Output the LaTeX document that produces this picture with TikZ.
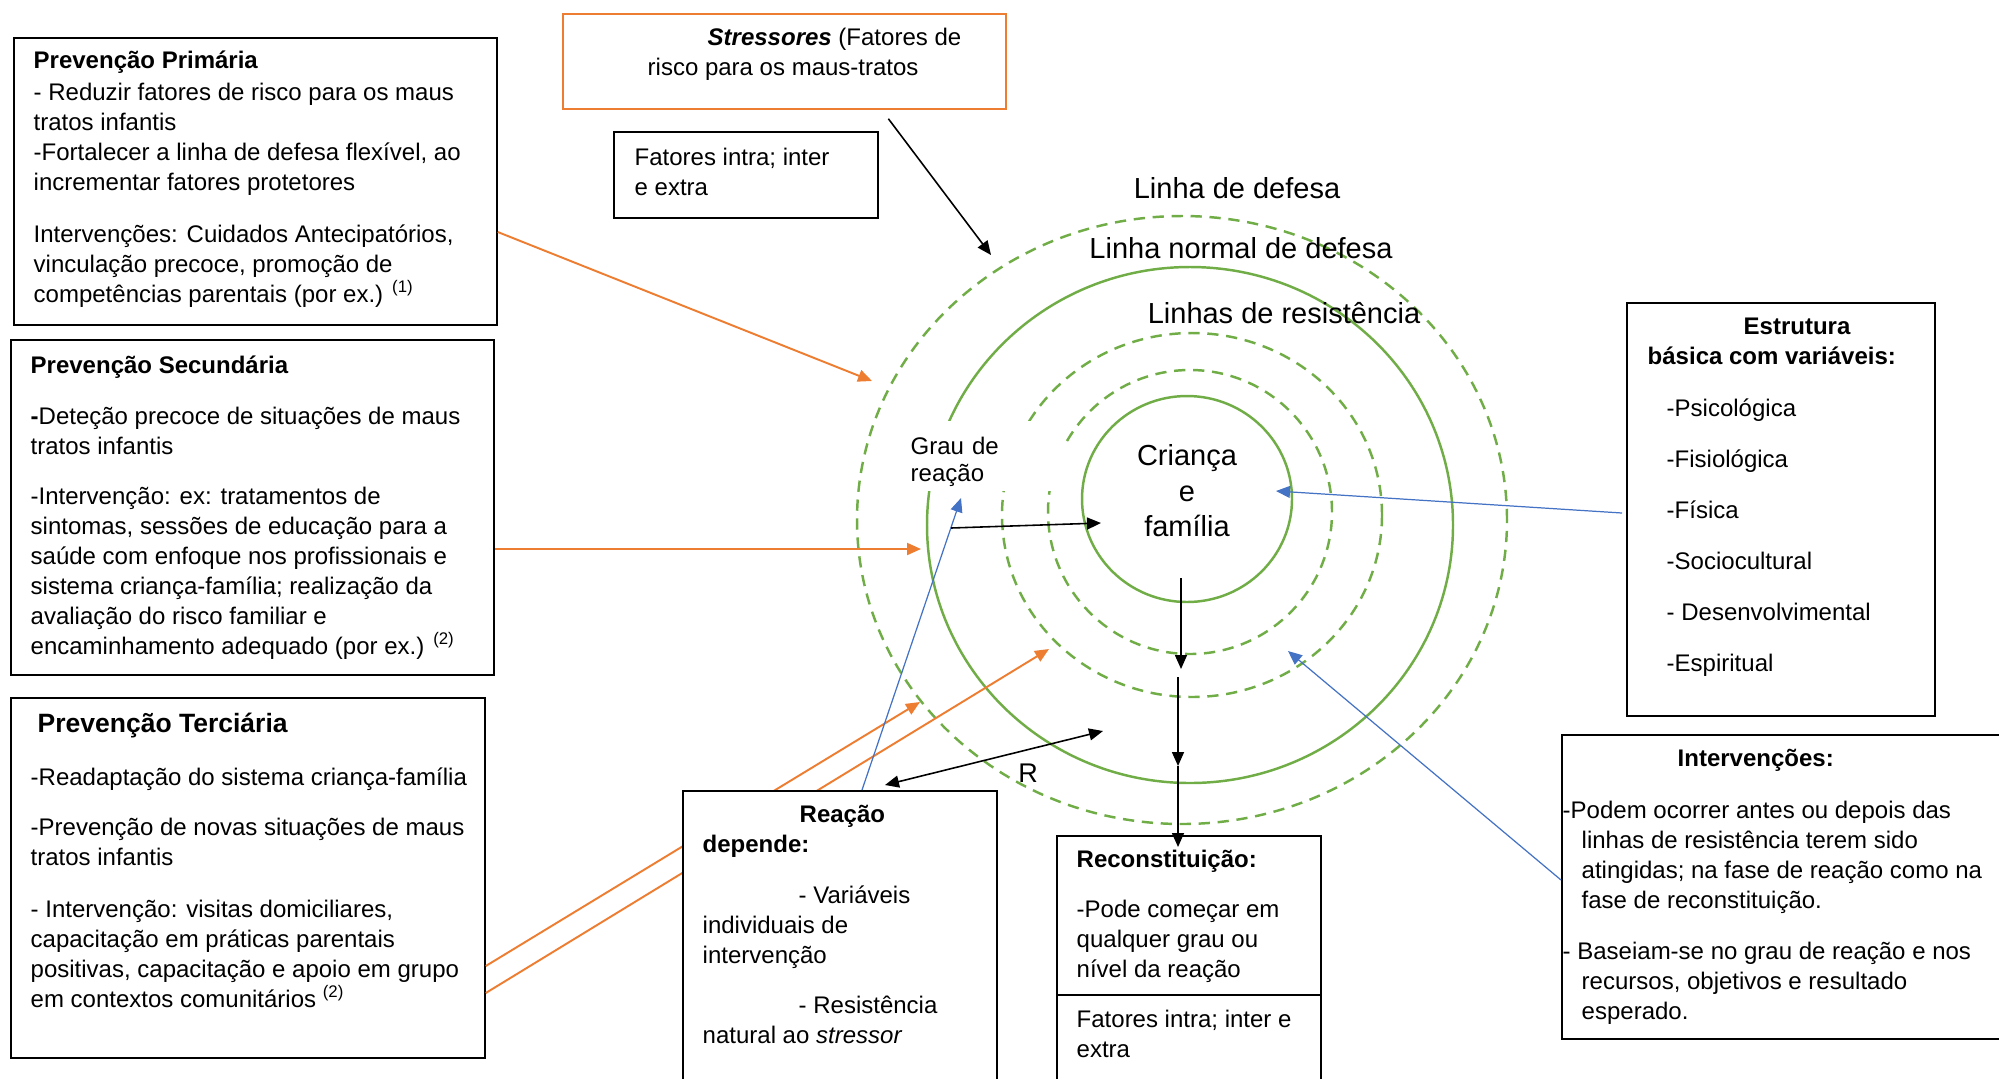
\documentclass[tikz,border=0pt]{standalone}
\usepackage{fontspec}
\setmainfont{Liberation Sans}
\usetikzlibrary{calc}
\usetikzlibrary{arrows.meta}
\definecolor{ora}{HTML}{ED7D31}
\definecolor{blu}{HTML}{4472C4}
\definecolor{grn}{HTML}{70AD47}
\newcommand\bodyfont{\fontsize{6.83pt}{8.54pt}\selectfont}
\newcommand\graufont{\fontsize{6.83pt}{7.68pt}\selectfont}
\newcommand\ringfont{\fontsize{8.25pt}{10.1pt}\selectfont}
\newcommand\bighead{\fontsize{7.54pt}{8.54pt}\selectfont\bfseries}
\newcommand\firstline{\rule{0pt}{2.2mm}}   % fixed height of a first line, so its baseline sits 2.2mm below the node top
\tikzset{
    frame/.style={draw, line width=0.5pt, fill=white, anchor=north west, inner sep=0pt},   % empty box, its text is a node of its own
    txt/.style={anchor=north west, inner sep=0pt, align=left, font=\bodyfont},
    ring/.style={grn, line width=0.7pt},
    dashring/.style={ring, dash pattern=on 3.2pt off 2.2pt},
    blk/.style={->, line width=0.45pt},
    ora arrow/.style={->, ora, line width=0.55pt},
    blu arrow/.style={->, blu, line width=0.35pt}
    }

\begin{document}
\begin{tikzpicture}[x=0.1mm, y=-0.1mm, >={Triangle[length=1.4mm,width=1.2mm]}]
	\useasboundingbox (0,0) rectangle (1999,1078);
	\clip (0,0) rectangle (1999,1078);

	% lines round the child and family
	\draw[dashring] (1182,520) ellipse [x radius=32.5mm, y radius=30.4mm];
	\draw[ring] (1190,525) ellipse [x radius=26.3mm, y radius=25.8mm];
	\draw[dashring] (1192,515) ellipse [x radius=19mm, y radius=18.2mm];
	\draw[dashring] (1190,512) ellipse [x radius=14.2mm, y radius=14.2mm];
	\draw[ring] (1187,499) ellipse [x radius=10.5mm, y radius=10.3mm];

	\node[fill=white, anchor=north west, inner xsep=0.5mm, inner ysep=0pt, text width=14.9mm,
		align=left, text height=3.4mm, text depth=3.6mm, font=\graufont] (grau) at (905,420) {Grau de\\ reação};
	\node[anchor=base, font=\ringfont] (flexlabel) at (1237,198) {Linha de defesa};
	\node[anchor=base, font=\ringfont] (normlabel) at (1241,258) {Linha normal de defesa};
	\node[anchor=base, font=\ringfont] (reslabel) at (1284,323) {Linhas de resistência};
	\node[anchor=north, inner sep=0pt, align=center, font=\ringfont] (crianca) at (1187,443) {\rule{0pt}{2.2mm}Criança\\ e\\ família};

	\node[frame, minimum width=48.3mm, minimum height=28.7mm] (prim) at (13,37) {};
	\node[txt] (primtext) at ($(prim.north west)+(20,9)$) {\firstline\textbf{Prevenção Primária}\\[0.2mm]
		- Reduzir fatores de risco para os maus\\
		tratos infantis\\
		-Fortalecer a linha de defesa flexível, ao\\
		incrementar fatores protetores\\[2.2mm]
		Intervenções: Cuidados Antecipatórios,\\
		vinculação precoce, promoção de\\
		competências parentais (por ex.) \textsuperscript{(1)}};

	\node[frame, minimum width=48.3mm, minimum height=33.5mm] (sec) at (10,339) {};
	\node[txt] (sectext) at ($(sec.north west)+(20,12)$) {\firstline\textbf{Prevenção Secundária}\\[2.1mm]
		\textbf{-}Deteção precoce de situações de maus\\
		tratos infantis\\[2mm]
		-Intervenção: ex: tratamentos de\\
		sintomas, sessões de educação para a\\
		saúde com enfoque nos profissionais e\\
		sistema criança-família; realização da\\
		avaliação do risco familiar e\\
		encaminhamento adequado (por ex.) \textsuperscript{(2)}};

	\node[frame, minimum width=47.4mm, minimum height=36mm] (terc) at (10,697) {};
	\node[txt] (terctext) at ($(terc.north west)+(20,12)$) {\rule{0pt}{2.3mm}\hspace*{0.7mm}{\bighead Prevenção Terciária}\\[2.3mm]
		-Readaptação do sistema criança-família\\[2mm]
		-Prevenção de novas situações de maus\\
		tratos infantis\\[2.2mm]
		- Intervenção: visitas domiciliares,\\
		capacitação em práticas parentais\\
		positivas, capacitação e apoio em grupo\\
		em contextos comunitários \textsuperscript{(2)}};

	\node[frame, draw=ora, minimum width=44.3mm, minimum height=9.5mm] (stress) at (562,13) {};
	\node[txt] (stresstext) at ($(stress.north west)+(85,10)$) {\firstline\hspace*{6mm}\textbf{\textit{Stressores}} (Fatores de\\
		risco para os maus-tratos};

	\node[frame, minimum width=26.4mm, minimum height=8.6mm] (fat) at (613,131) {};
	\node[txt] (fattext) at ($(fat.north west)+(21,12)$) {\firstline Fatores intra; inter\\ e extra};

	\node[frame, minimum width=26.4mm, minimum height=15.9mm] (recon) at (1056,835) {};
	\node[txt] (recontext) at ($(recon.north west)+(20,10)$) {\firstline\textbf{Reconstituição:}\\[2mm]
		-Pode começar em\\
		qualquer grau ou\\
		nível da reação};

	\node[frame, minimum width=26.4mm, minimum height=9.6mm] (fatb) at (1056,994) {};
	\node[txt] (fatbtext) at ($(fatb.north west)+(20,11)$) {\firstline Fatores intra; inter e\\ extra};

	\node[frame, minimum width=30.8mm, minimum height=41.3mm] (estr) at (1626,302) {};
	\node[txt] (estrtext) at ($(estr.north west)+(21,10)$) {\firstline\hspace*{9.6mm}\textbf{Estrutura}\\
		\textbf{básica com variáveis:}\\[2.2mm]
		\hspace*{1.9mm}-Psicológica\\[2.1mm]
		\hspace*{1.9mm}-Fisiológica\\[2.1mm]
		\hspace*{1.9mm}-Física\\[2.1mm]
		\hspace*{1.9mm}-Sociocultural\\[2.1mm]
		\hspace*{1.9mm}- Desenvolvimental\\[2.1mm]
		\hspace*{1.9mm}-Espiritual};

	\node[frame, minimum width=46mm, minimum height=30.4mm] (interv) at (1561,734) {};
	\node[txt] (intervtext) at ($(interv.north west)+(1,10)$) {\firstline\hspace*{11.5mm}\textbf{Intervenções:}\\[2.2mm]
		-Podem ocorrer antes ou depois das\\
		\hspace*{1.9mm}linhas de resistência terem sido\\
		\hspace*{1.9mm}atingidas; na fase de reação como na\\
		\hspace*{1.9mm}fase de reconstituição.\\[2.1mm]
		- Baseiam-se no grau de reação e nos\\
		\hspace*{1.9mm}recursos, objetivos e resultado\\
		\hspace*{1.9mm}esperado.};

	% free ends of the connectors
	\coordinate (flexhit) at (991,255);
	\coordinate (primhit) at (872,381);
	\coordinate (sechit) at (921,549);
	\coordinate (terchitA) at (920,702);
	\coordinate (terchitB) at (1049,649);
	\coordinate (corehit) at (1276,491);
	\coordinate (lineshit) at (1288,651);
	\coordinate (grauhit) at (961,498);
	\coordinate (grauout) at (951,528);
	\coordinate (grauin) at (1101,523);
	\coordinate (coreout) at (1181,578);
	\coordinate (downA) at (1181,669);
	\coordinate (downB) at (1178,677);
	\coordinate (downC) at (1178,766);
	\coordinate (rtip) at (1103,731);

	\draw[blk] ($(stress.south)+(104,9)$) -- (flexhit);
	\draw[ora arrow] ($(prim.north east)+(0,195)$) -- (primhit);
	\draw[ora arrow] ($(sec.north east)+(0,210)$) -- (sechit);
	\draw[ora arrow] ($(terc.north east)+(0,269)$) -- (terchitA);
	\draw[ora arrow] ($(terc.north east)+(0,296)$) -- (terchitB);

	\node[frame, minimum width=31.4mm, minimum height=30mm] (reac) at (682,790) {};
	\node[txt] (reactext) at ($(reac.north west)+(20,10)$) {\firstline\hspace*{9.7mm}\textbf{Reação}\\
		\textbf{depende:}\\[2.1mm]
		\hspace*{9.6mm}- Variáveis\\
		individuais de\\
		intervenção\\[2mm]
		\hspace*{9.6mm}- Resistência\\
		natural ao \textit{stressor}};

	\draw[blu arrow] ($(reac.north west)+(180,0)$) -- (grauhit);
	\draw[blu arrow] ($(estr.north west)+(-4,211)$) -- (corehit);
	\draw[blu arrow] ($(interv.north west)+(0,146)$) -- (lineshit);
	\draw[blk] (grauout) -- (grauin);
	\draw[blk] (coreout) -- (downA);
	\draw[blk] (downB) -- (downC);
	\draw[blk] (downC) -- ($(recon.north west)+(122,12)$);
	\draw[blk, <->] ($(reac.north west)+(203,-5)$) -- (rtip);
	\node[font=\fontsize{7.68pt}{9pt}\selectfont] (rlabel) at (1028,773) {R};
\end{tikzpicture}
\end{document}
